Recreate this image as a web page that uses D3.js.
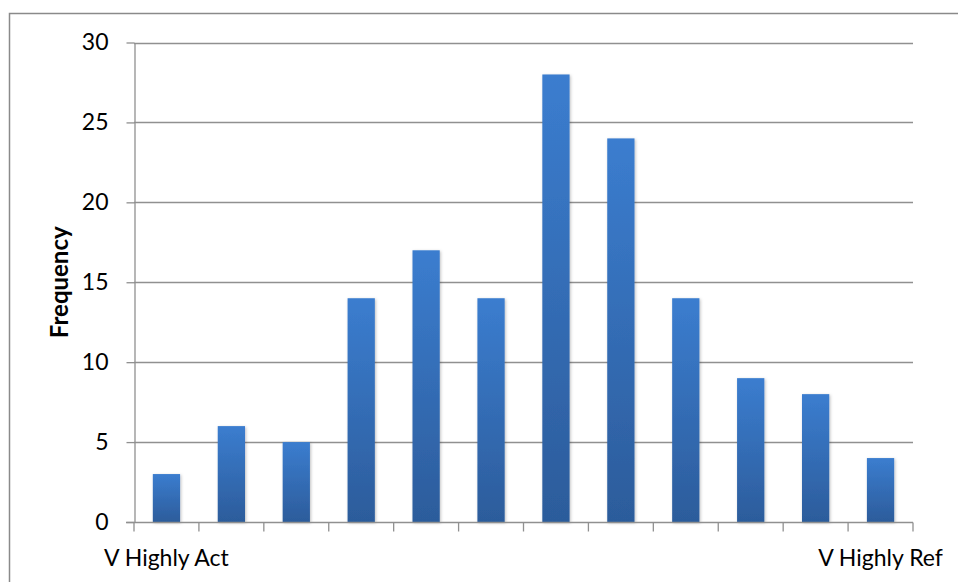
<!DOCTYPE html>
<html>
<head>
<meta charset="utf-8">
<script src="https://cdn.jsdelivr.net/npm/d3@7"></script>
<style>
body { margin: 0; background: #fff; }
svg { display: block; }
text { font-family: Lato, "Open Sans", "Liberation Sans", sans-serif; fill: #000; }
</style>
</head>
<body>
<svg id="chart" width="958" height="582"></svg>
<script>
const categories = ["V Highly Act", "c2", "c3", "c4", "c5", "c6", "c7", "c8", "c9", "c10", "c11", "V Highly Ref"];
const categoryLabels = ["V Highly Act", "", "", "", "", "", "", "", "", "", "", "V Highly Ref"];
const frequency = [3, 6, 5, 14, 17, 14, 28, 24, 14, 9, 8, 4];
const yTicks = [0, 5, 10, 15, 20, 25, 30];
const yTitle = "Frequency";

const svg = d3.select("#chart");
const W = 958, H = 582;
const plot = { left: 134, right: 913, top: 42.5, bottom: 522 };

// outer frame
svg.append("rect")
  .attr("x", 9.5).attr("y", 13.5)
  .attr("width", W + 10).attr("height", H + 10)
  .attr("fill", "none").attr("stroke", "#8a8a8a").attr("stroke-width", 1.5);

const defs = svg.append("defs");
const grad = defs.append("linearGradient").attr("id", "barGrad")
  .attr("x1", 0).attr("y1", 0).attr("x2", 0).attr("y2", 1);
grad.append("stop").attr("offset", "0%").attr("stop-color", "#3b7dcf");
grad.append("stop").attr("offset", "100%").attr("stop-color", "#2c5c9b");

const shadow = defs.append("filter").attr("id", "shadow")
  .attr("x", "-30%").attr("y", "-10%").attr("width", "160%").attr("height", "130%");
shadow.append("feDropShadow").attr("dx", 1).attr("dy", 1).attr("stdDeviation", 1.5)
  .attr("flood-color", "#000").attr("flood-opacity", 0.25);

const x = d3.scaleBand().domain(categories).range([plot.left, plot.right])
  .paddingInner(0.58).paddingOuter(0.29);
const xOuter = d3.scaleBand().domain(categories).range([plot.left, plot.right]).padding(0);
const y = d3.scaleLinear().domain([0, 30]).range([plot.bottom, plot.top]);

// gridlines
svg.append("g").selectAll("line").data(yTicks.filter(d => d > 0)).join("line")
  .attr("x1", plot.left).attr("x2", plot.right)
  .attr("y1", d => Math.round(y(d)) + 0.5).attr("y2", d => Math.round(y(d)) + 0.5)
  .attr("stroke", "#909090").attr("stroke-width", 1.3);

// y axis
const yAxis = svg.append("g").attr("transform", `translate(${plot.left + 0.5},0)`)
  .call(d3.axisLeft(y).tickValues(yTicks).tickSize(8).tickPadding(18).tickSizeOuter(0));
yAxis.select(".domain").attr("stroke", "#909090").attr("stroke-width", 1.3);
yAxis.selectAll(".tick line").attr("stroke", "#909090").attr("stroke-width", 1.3);
yAxis.selectAll(".tick text").attr("font-size", 23).attr("font-family", "Lato, 'Open Sans', sans-serif").attr("fill", "#000");

// bars
svg.append("g").selectAll("rect").data(frequency).join("rect")
  .attr("x", (d, i) => x(categories[i]))
  .attr("width", x.bandwidth())
  .attr("y", d => y(d))
  .attr("height", d => y(0) - y(d))
  .attr("fill", "url(#barGrad)")
  .attr("filter", "url(#shadow)");

// x axis
const xAxis = svg.append("g").attr("transform", `translate(0,${plot.bottom + 0.5})`);
xAxis.append("line").attr("x1", plot.left - 8).attr("x2", plot.right)
  .attr("stroke", "#909090").attr("stroke-width", 1.3);
const boundaries = categories.map(c => xOuter(c)).concat([plot.right]);
xAxis.selectAll("line.tk").data(boundaries).join("line").attr("class", "tk")
  .attr("x1", d => d).attr("x2", d => d).attr("y1", 0).attr("y2", 9)
  .attr("stroke", "#909090").attr("stroke-width", 1.3);
xAxis.selectAll("text").data(categories).join("text")
  .attr("x", c => xOuter(c) + xOuter.bandwidth() / 2)
  .attr("y", 43)
  .attr("text-anchor", "middle")
  .attr("font-size", 23)
  .text((c, i) => categoryLabels[i]);

// y title
svg.append("text")
  .attr("transform", `translate(68,${(plot.top + plot.bottom) / 2}) rotate(-90)`)
  .attr("text-anchor", "middle")
  .attr("font-size", 24)
  .attr("font-weight", "bold")
  .text(yTitle);
</script>
</body>
</html>
